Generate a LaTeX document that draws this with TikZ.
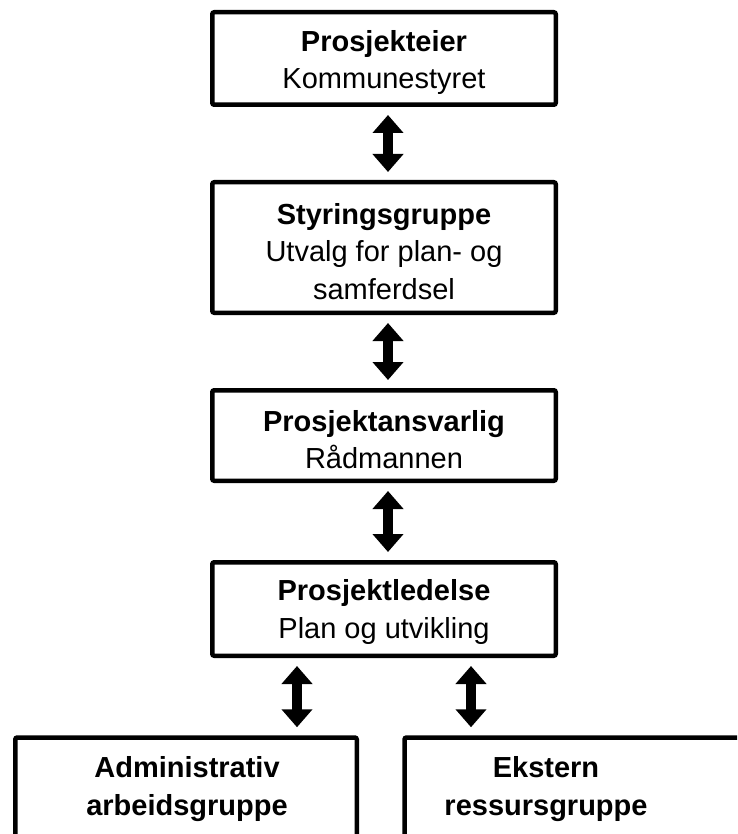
\documentclass[tikz,border=0pt]{standalone}
\usepackage{fontspec}
\setmainfont{Liberation Sans}
\usetikzlibrary{arrows.meta}
\tikzset{
  orgbox/.style={draw=black, line width=4.5pt, rounded corners=2pt, inner sep=0pt,
    minimum width=343.5pt},
  txt/.style={inner sep=0pt, align=center, font=\fontsize{29}{37.5}\selectfont},
  link/.style={line width=10.5pt, {Triangle[width=30pt,length=18pt]}-{Triangle[width=30pt,length=18pt]},
    shorten <=8pt, shorten >=8pt}
}
\begin{document}
\begin{tikzpicture}[x=1pt,y=-1pt]
\useasboundingbox (0,0) rectangle (737,834);
\clip (0,0) rectangle (737,834);
\node[orgbox, minimum height=92.5pt] (b1) at (384,58.5) {};
\node[orgbox, minimum height=130.5pt] (b2) at (384,247.5) {};
\node[orgbox, minimum height=90.5pt] (b3) at (384,435.5) {};
\node[orgbox, minimum height=93.5pt] (b4) at (384,609) {};
\node[orgbox, minimum width=341.5pt, minimum height=200pt, anchor=north] (b5) at (186,735.25) {};
\node[orgbox, minimum width=400pt, minimum height=200pt, anchor=north west] (b6) at (402.25,735.25) {};
\node[txt] (t1) at ([yshift=-4pt]b1.center) {\textbf{Prosjekteier}\\Kommunestyret};
\node[txt] (t2) at ([yshift=-4pt]b2.center) {\textbf{Styringsgruppe}\\Utvalg for plan- og\\samferdsel};
\node[txt] (t3) at ([yshift=-4pt]b3.center) {\textbf{Prosjektansvarlig}\\Rådmannen};
\node[txt] (t4) at ([yshift=-3pt]b4.center) {\textbf{Prosjektledelse}\\Plan og utvikling};
\node[txt] (t5) at (187,789) {\textbf{Administrativ}\\\textbf{arbeidsgruppe}};
\node[txt] (t6) at (546,789) {\textbf{Ekstern}\\\textbf{ressursgruppe}};
\draw[link] ([xshift=4pt]b1.south) -- ([xshift=4pt]b2.north);
\draw[link] ([xshift=4pt]b2.south) -- ([xshift=4pt]b3.north);
\draw[link] ([xshift=4pt]b3.south) -- ([xshift=4pt]b4.north);
\draw[link] ([xshift=-87pt]b4.south) -- ([xshift=-87pt]b4.south |- b5.north);
\draw[link] ([xshift=87pt]b4.south) -- ([xshift=87pt]b4.south |- b6.north);
\end{tikzpicture}
\end{document}
